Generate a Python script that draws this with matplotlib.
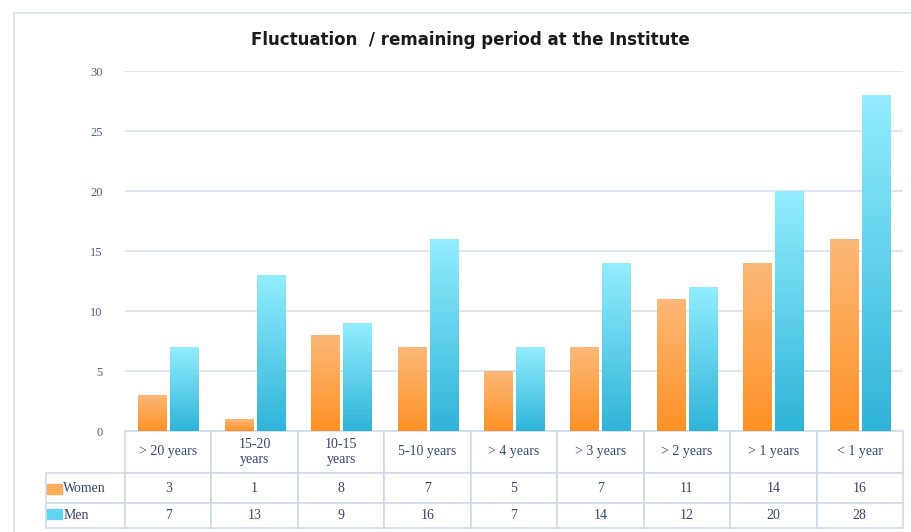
import matplotlib
matplotlib.use("Agg")
import matplotlib.pyplot as plt
import numpy as np
from matplotlib.colors import LinearSegmentedColormap
from matplotlib.patches import Rectangle
from matplotlib.table import Table

# categories and counts
categories = ["> 20 years", "15-20\nyears", "10-15\nyears", "5-10 years", "> 4 years",
              "> 3 years", "> 2 years", "> 1 years", "< 1 year"]
women = [3, 1, 8, 7, 5, 7, 11, 14, 16]
men = [7, 13, 9, 16, 7, 14, 12, 20, 28]
series_names = ["Women", "Men"]

W, H = 911, 532
TXT = "#34476d"
GRID = "#d3def0"
EDGE = "#c9d7ec"
SERIF = ["Liberation Serif", "DejaVu Serif"]

women_cmap = LinearSegmentedColormap.from_list("w", ["#fc9226", "#fdb878"])
men_cmap = LinearSegmentedColormap.from_list("m", ["#2fb4d9", "#93edfe"])

fig = plt.figure(figsize=(W / 100, H / 100), dpi=100)

# outer chart frame
fig.patches.append(Rectangle((14 / W, -0.1), 1.2, 1.1 - 13 / H, transform=fig.transFigure,
                             fill=False, edgecolor="#d5e1f1", lw=1.2))

ax = fig.add_axes([125 / W, 101 / H, 778 / W, 360 / H])
x = np.arange(len(categories))
bw = 0.324
off = 0.185

grad = np.linspace(0, 1, 256).reshape(-1, 1)
for vals, dx, cmap in [(women, -off, women_cmap), (men, off, men_cmap)]:
    bars = ax.bar(x + dx, vals, width=bw, color="none", edgecolor="none", zorder=3)
    for b in bars:
        x0, w, h = b.get_x(), b.get_width(), b.get_height()
        im = ax.imshow(grad, cmap=cmap, origin="lower", aspect="auto",
                       extent=(x0, x0 + w, 0, h), zorder=2)
        im.set_clip_path(b)

ax.set_xlim(-0.5, len(categories) - 0.5)
ax.set_ylim(0, 30)
ax.set_yticks(range(0, 31, 5))
ax.set_xticks([])
ax.yaxis.grid(True, color=GRID, lw=1.1)
ax.set_axisbelow(True)
for s in ax.spines.values():
    s.set_visible(False)
ax.tick_params(axis="y", length=0, pad=16, labelcolor="#4a6090", labelsize=9)
for lab in ax.get_yticklabels():
    lab.set_fontfamily(SERIF)

# data table under the plot (bbox covers the value columns, labels hang left)
tb = Table(ax, bbox=[0, -97 / 360, 1, 97 / 360])
lab_w, cell_w = 79 / 778, 1 / 9
row_h = [42 / 360, 30 / 360, 25 / 360]
for j, c in enumerate(categories):
    tb.add_cell(0, j, cell_w, row_h[0], text=c, loc="center", edgecolor=EDGE)
for i, vals in enumerate([women, men], start=1):
    cell = tb.add_cell(i, -1, lab_w, row_h[i], text=series_names[i - 1], loc="left", edgecolor=EDGE)
    cell.PAD = 0.22
    for j, v in enumerate(vals):
        tb.add_cell(i, j, cell_w, row_h[i], text=str(v), loc="center", edgecolor=EDGE)
tb.auto_set_font_size(False)
tb.set_fontsize(10)
for cell in tb.get_celld().values():
    cell.get_text().set_color(TXT)
    cell.get_text().set_fontfamily(SERIF)
    cell.get_text().set_linespacing(1.1)
    cell.set_linewidth(1.1)
ax.add_table(tb)

# legend keys in the row label cells
ax.add_patch(Rectangle(((47 - 125) / 778, (431 - 494) / 360), 15 / 778, 10 / 360,
                       transform=ax.transAxes, color="#fdab5c", clip_on=False))
ax.add_patch(Rectangle(((47 - 125) / 778, (431 - 519) / 360), 15 / 778, 10 / 360,
                       transform=ax.transAxes, color="#62d4ef", clip_on=False))

fig.text(470 / W, 1 - 40 / H, "Fluctuation  / remaining period at the Institute",
         ha="center", va="center", fontsize=12, fontweight="bold", color="#1a1a1a",
         family=["Liberation Sans Narrow", "DejaVu Sans"])

fig.savefig("out.png", dpi=100)
